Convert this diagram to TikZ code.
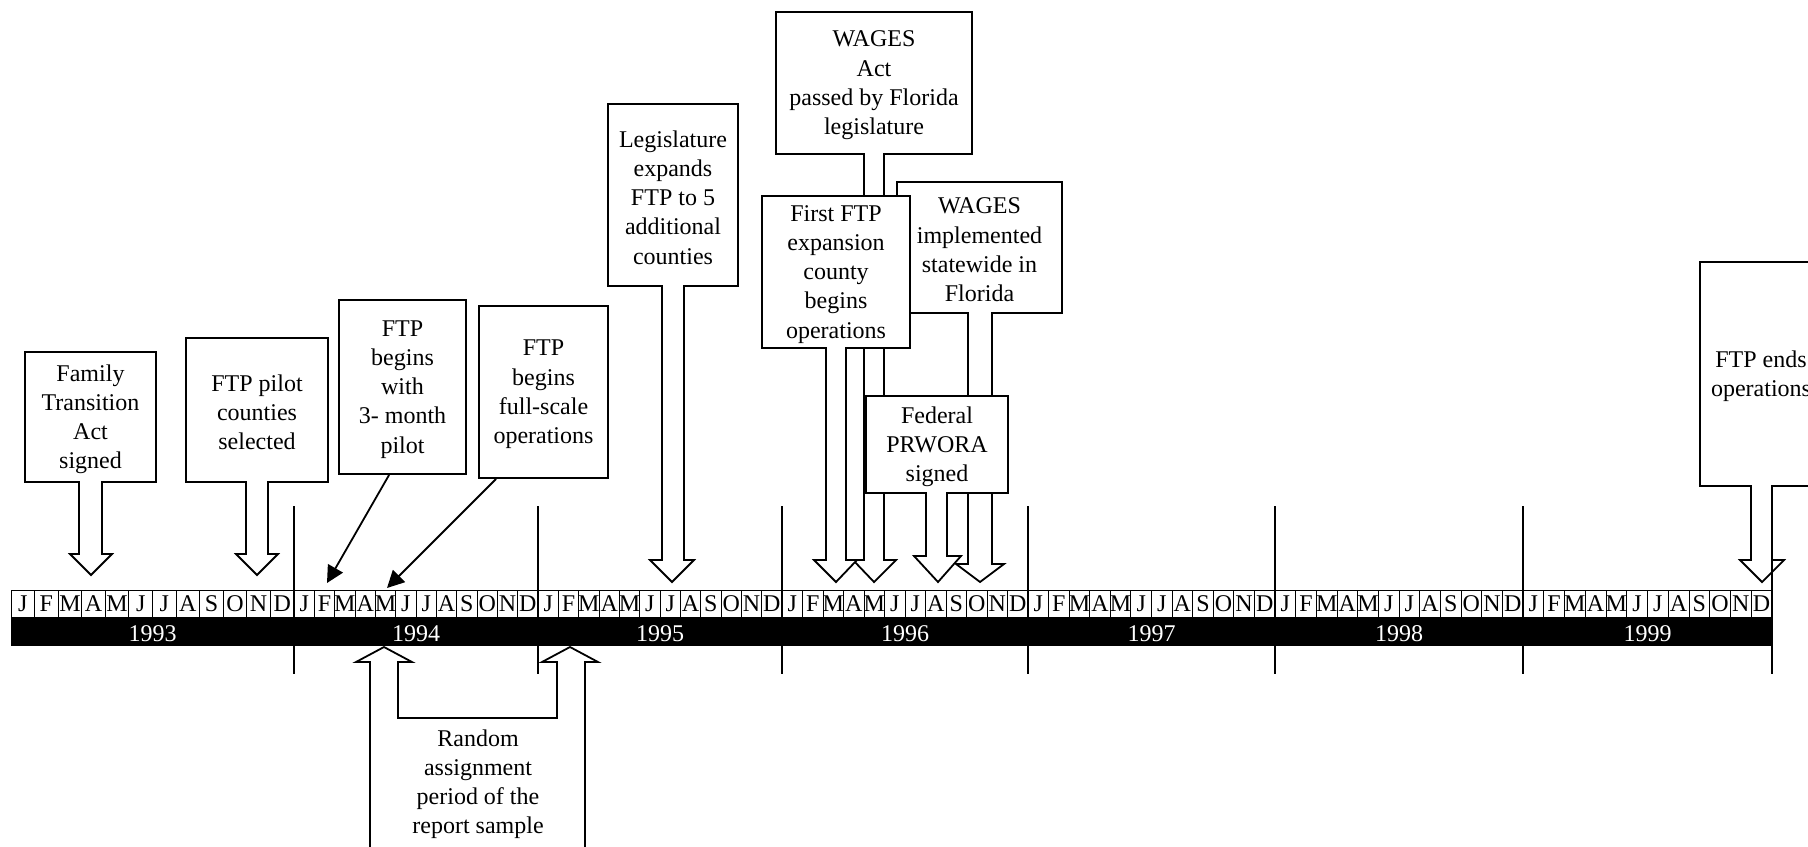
\documentclass[tikz,border=0pt]{standalone}
\usepackage{fontspec}
\setmainfont{Liberation Serif}
\usetikzlibrary{arrows.meta}
\tikzset{
  lbl/.style={align=center, font=\fontsize{12}{14.6}\selectfont, inner sep=0pt, yshift=-1.2pt},
  callout/.style={draw, fill=white, line width=0.9pt, line join=miter},
  tbox/.style={draw, fill=white, line width=0.9pt, inner sep=0pt},
  thinarrow/.style={line width=0.9pt, -{Triangle[length=8.5pt,width=8.5pt]}},
  monbox/.style={draw, fill=white, line width=0.5pt},
  montxt/.style={font=\fontsize{12}{14.5}\selectfont, inner sep=0pt, anchor=base},
  yeartxt/.style={font=\fontsize{12}{14.5}\selectfont, text=white, inner sep=0pt, anchor=base},
  divline/.style={line width=0.9pt}
}
\begin{document}
\begin{tikzpicture}[x=0.5pt,y=-0.5pt]
\useasboundingbox (0,0) rectangle (1808,846);
\clip (0,0) rectangle (1808,846);

% ---------- timeline ----------
\foreach \ya/\yb/\yr in {11/294/1993, 294/538/1994, 538/782/1995, 782/1028/1996, 1028/1275/1997, 1275/1523/1998, 1523/1772/1999} {
  \pgfmathsetmacro\w{(\yb-\ya)/12}
  \foreach \m [count=\k from 0] in {J,F,M,A,M,J,J,A,S,O,N,D} {
    \draw[monbox] ({\ya+\k*\w},590) rectangle ({\ya+(\k+1)*\w},617);
    \node[montxt] (m-\yr-\k) at ({\ya+(\k+0.5)*\w},611) {\m};
  }
}
\fill[black] (11,617) rectangle (1772,646);
\foreach \ya/\yb/\yr in {11/294/1993, 294/538/1994, 538/782/1995, 782/1028/1996, 1028/1275/1997, 1275/1523/1998, 1523/1772/1999} {
  \node[yeartxt] (y\yr) at ({(\ya+\yb)/2},641) {\yr};
}

% ---------- callouts ----------
% Family Transition Act signed
\draw[callout] (25,352) -- (156,352) -- (156,482) -- (102,482) -- (102,554) -- (112,554) -- (91,575) -- (70,554) -- (79,554) -- (79,482) -- (25,482) -- cycle;
\node[lbl] (fta) at (90.5,417) {Family\\Transition\\Act\\signed};

% FTP pilot counties selected
\draw[callout] (186,338) -- (328,338) -- (328,482) -- (268,482) -- (268,554) -- (278,554) -- (257,575) -- (236,554) -- (246,554) -- (246,482) -- (186,482) -- cycle;
\node[lbl] (pilot) at (257,410) {FTP pilot\\counties\\selected};

% FTP begins with 3-month pilot
\node[tbox, minimum width=63.5pt, minimum height=87pt] (p3) at (402.5,387) {};
\node[lbl] (p3t) at (p3.center) {FTP\\begins\\with\\3- month\\pilot};
\coordinate (t3) at (327,583);
\draw[thinarrow] ([xshift=25.5pt]p3.south west) -- (t3);

% FTP begins full-scale operations
\node[tbox, minimum width=64.5pt, minimum height=86pt] (p4) at (543.5,392) {};
\node[lbl] (p4t) at (p4.center) {FTP\\begins\\full-scale\\operations};
\coordinate (t4) at (387,588);
\draw[thinarrow] ([xshift=9pt]p4.south west) -- (t4);

% Legislature expands FTP
\draw[callout] (608,104) -- (738,104) -- (738,286) -- (684,286) -- (684,560) -- (694,560) -- (672,582) -- (650,560) -- (662,560) -- (662,286) -- (608,286) -- cycle;
\node[lbl] (leg) at (673,195) {Legislature\\expands\\FTP to 5\\additional\\counties};

% WAGES Act passed
\draw[callout] (776,12) -- (972,12) -- (972,154) -- (884,154) -- (884,560) -- (896,560) -- (874,582) -- (853,560) -- (864,560) -- (864,154) -- (776,154) -- cycle;
\node[lbl] (wact) at (874,83) {WAGES\\Act\\passed by Florida\\legislature};

% WAGES implemented statewide
\draw[callout] (897,182) -- (1062,182) -- (1062,313) -- (992,313) -- (992,564) -- (1004,564) -- (980,582) -- (956,564) -- (968,564) -- (968,313) -- (897,313) -- cycle;
\node[lbl] (wimp) at (979.5,247.5) {WAGES\\implemented\\statewide in\\Florida};

% First FTP expansion county
\draw[callout] (762,196) -- (910,196) -- (910,348) -- (846,348) -- (846,560) -- (857,560) -- (836,582) -- (814,560) -- (826,560) -- (826,348) -- (762,348) -- cycle;
\node[lbl] (first) at (836,272) {First FTP\\expansion\\county\\begins\\operations};

% Federal PRWORA signed
\draw[callout] (866,396) -- (1008,396) -- (1008,493) -- (947,493) -- (947,556) -- (961,556) -- (938,582) -- (914,556) -- (926,556) -- (926,493) -- (866,493) -- cycle;
\node[lbl] (prw) at (937,444.5) {Federal\\PRWORA\\signed};

% FTP ends operations
\draw[callout] (1700,262) -- (1822,262) -- (1822,486) -- (1772,486) -- (1772,560) -- (1784,560) -- (1762,582) -- (1740,560) -- (1751,560) -- (1751,486) -- (1700,486) -- cycle;
\node[lbl] (ends) at (1761,374) {FTP ends\\operations};

% Random assignment period
\draw[callout] (370,880) -- (370,662) -- (356,662) -- (384,647) -- (412,662) -- (398,662) -- (398,718) -- (557,718) -- (557,662) -- (542,662) -- (570,647) -- (598,662) -- (585,662) -- (585,880) -- cycle;
\node[lbl] (rand) at (478,782) {Random\\assignment\\period of the\\report sample};

% ---------- year dividers ----------
\foreach \x in {294,538,782,1028,1275,1523,1772} {
  \draw[divline] (\x,506) -- (\x,674);
}
\end{tikzpicture}
\end{document}
